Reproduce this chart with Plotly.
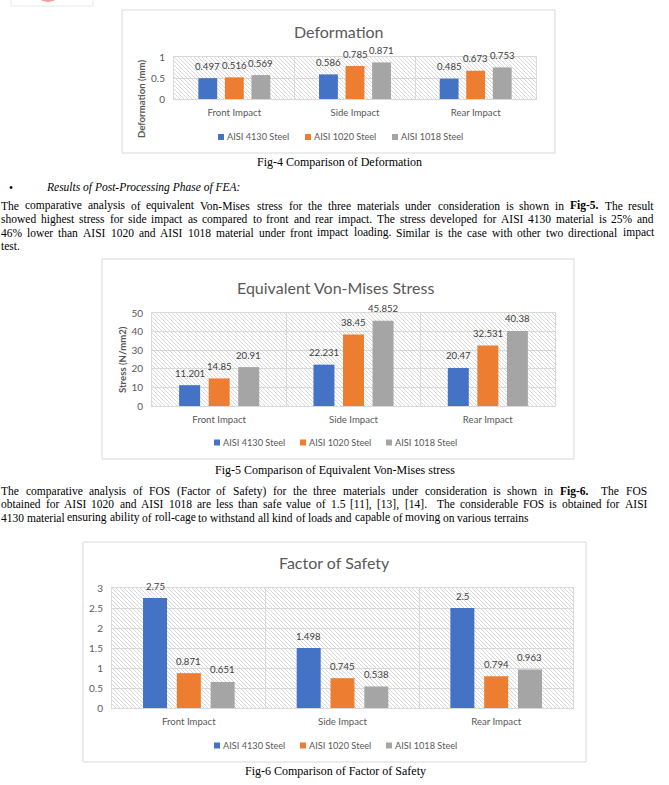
import re
import base64
import plotly.graph_objects as go

W, H = 669, 785

# ---------------- data ----------------
categories = ["Front Impact", "Side Impact", "Rear Impact"]
series_names = ["AISI 4130 Steel", "AISI 1020 Steel", "AISI 1018 Steel"]

deformation_4130 = [0.497, 0.586, 0.485]
deformation_1020 = [0.516, 0.785, 0.673]
deformation_1018 = [0.569, 0.871, 0.753]

stress_4130 = [11.201, 22.231, 20.47]
stress_1020 = [14.85, 38.45, 32.531]
stress_1018 = [20.91, 45.852, 40.38]

fos_4130 = [2.75, 1.498, 2.5]
fos_1020 = [0.871, 0.745, 0.794]
fos_1018 = [0.651, 0.538, 0.963]

chart_titles = ["Deformation", "Equivalent Von-Mises Stress", "Factor of Safety"]
y_titles = ["Deformation (mm)", "Stress (N/mm2)", None]
captions = ["Fig-4 Comparison of Deformation",
            "Fig-5 Comparison of Equivalent Von-Mises stress",
            "Fig-6 Comparison of Factor of Safety"]
y_ranges = [(0, 1), (0, 50), (0, 3)]
y_dticks = [0.5, 10, 0.5]

bullet_text = "Results of Post-Processing Phase of FEA:"
para1 = [
    "The comparative analysis of equivalent Von-Mises stress for the three materials under consideration is shown in **Fig-5.** The result",
    "showed highest stress for side impact as compared to front and rear impact. The stress developed for AISI 4130 material is 25% and",
    "46% lower than AISI 1020 and AISI 1018 material under front impact loading. Similar is the case with other two directional impact",
    "test.",
]
para2 = [
    "The comparative analysis of FOS (Factor of Safety) for the three materials under consideration is shown in **Fig-6.**  The FOS",
    "obtained for AISI 1020 and AISI 1018 are less than safe value of 1.5 [11], [13], [14].  The considerable FOS is obtained for AISI",
    "4130 material ensuring ability of roll-cage to withstand all kind of loads and capable of moving on various terrains",
]

# ---------------- styles / layout ----------------
colors = ["#4472C4", "#ED7D31", "#A5A5A5"]
SANS = "Lato"
SERIF = "Liberation Serif"
GRAY = "#595959"
GRID = "#d9d9d9"
BARGAP = 0.34
BARGROUPGAP = 0.29

# pixel geometry of each chart
charts = [
    dict(frame=(122, 10, 555, 153), plot=(174, 57, 536, 99), title=(339, 32),
         ytitle=(142, 99), legend_x=(227, 314, 401), legend_y=137, caption=(339, 162)),
    dict(frame=(102, 259, 574, 459), plot=(152, 313, 555, 406), title=(335, 288),
         ytitle=(122, 360), legend_x=(223, 309, 395), legend_y=442.5, caption=(335, 470)),
    dict(frame=(83, 542, 586, 762), plot=(112, 588, 573, 708), title=(334, 562),
         ytitle=None, legend_x=(223, 309, 395), legend_y=745.5, caption=(335, 771)),
]

series_data = [
    [deformation_4130, deformation_1020, deformation_1018],
    [stress_4130, stress_1020, stress_1018],
    [fos_4130, fos_1020, fos_1018],
]


def px(x):
    return x / W


def py(y):
    return 1 - y / H


def hatch_uri(w, h):
    svg = (f"<svg xmlns='http://www.w3.org/2000/svg' width='{w}' height='{h}' viewBox='0 0 {w} {h}'>"
           "<defs><pattern id='p' width='4' height='4' patternUnits='userSpaceOnUse'>"
           "<path d='M-1,-1 L5,5 M3,-1 L5,1 M-1,3 L1,5' stroke='#d4d4d4' stroke-width='0.9'/>"
           "</pattern></defs><rect width='100%' height='100%' fill='white'/>"
           "<rect width='100%' height='100%' fill='url(#p)'/></svg>")
    return "data:image/svg+xml;base64," + base64.b64encode(svg.encode()).decode()


fig = go.Figure()
annotations = []
shapes = []
images = []
layout_axes = {}

for ci, ch in enumerate(charts):
    sfx = "" if ci == 0 else str(ci + 1)
    xref = "x" + sfx
    yref = "y" + sfx
    x0, y0, x1, y1 = ch["plot"]
    slot_px = (x1 - x0) / len(categories) * (1 - BARGAP) / 3  # width of one bar slot in a group
    for si in range(3):
        vals = series_data[ci][si]
        fig.add_trace(go.Bar(
            x=categories, y=vals, name=series_names[si],
            marker=dict(color=colors[si], line=dict(width=0)),
            xaxis=xref, yaxis=yref, showlegend=False, hoverinfo="skip",
        ))
        # data labels, anchored on each bar's value through the axes
        for cat, v in zip(categories, vals):
            annotations.append(dict(
                text=str(v), xref=xref, yref=yref, x=cat, y=v,
                xshift=(si - 1) * slot_px, yshift=12, xanchor="center", yanchor="middle",
                showarrow=False, borderpad=0, borderwidth=0,
                font=dict(family=SANS, size=9.6, color="#404040")))
        # legend entry (swatch + label) beneath the chart
        lx = ch["legend_x"][si]
        ly = ch["legend_y"]
        shapes.append(dict(type="rect", xref="paper", yref="paper",
                           x0=px(lx - 9), x1=px(lx - 3), y0=py(ly + 3), y1=py(ly - 3),
                           line=dict(width=0), fillcolor=colors[si]))
        annotations.append(dict(
            text=series_names[si], xref="paper", yref="paper", x=px(lx), y=py(ly),
            xanchor="left", yanchor="middle", showarrow=False, borderpad=0, borderwidth=0,
            font=dict(family=SANS, size=9.2, color=GRAY)))
    layout_axes["xaxis" + sfx] = dict(
        domain=[px(x0), px(x1)], anchor=yref, type="category",
        tickson="boundaries", showgrid=True, gridcolor=GRID, gridwidth=1,
        showline=True, mirror=True, linecolor=GRID, linewidth=1,
        ticks="", ticklen=0, ticklabelstandoff=4,
        tickfont=dict(family=SANS, size=9.6, color=GRAY), fixedrange=True,
    )
    layout_axes["yaxis" + sfx] = dict(
        domain=[py(y1), py(y0)], anchor=xref, range=list(y_ranges[ci]),
        dtick=y_dticks[ci], showgrid=True, gridcolor=GRID, gridwidth=1,
        showline=True, mirror=True, linecolor=GRID, linewidth=1, zeroline=False,
        ticks="", ticklabelstandoff=6,
        tickfont=dict(family=SANS, size=10, color=GRAY), fixedrange=True,
    )
    images.append(dict(
        source=hatch_uri(x1 - x0, y1 - y0), xref=xref + " domain", yref=yref + " domain",
        x=0, y=1, sizex=1, sizey=1, xanchor="left", yanchor="top",
        sizing="stretch", layer="below",
    ))
    fx0, fy0, fx1, fy1 = ch["frame"]
    shapes.append(dict(type="rect", xref="paper", yref="paper",
                       x0=px(fx0), x1=px(fx1), y0=py(fy1), y1=py(fy0),
                       line=dict(color=GRID, width=1), fillcolor="rgba(0,0,0,0)", layer="below"))
    annotations.append(dict(
        text=chart_titles[ci], xref="paper", yref="paper",
        x=px(ch["title"][0]), y=py(ch["title"][1]), xanchor="center", yanchor="middle",
        showarrow=False, font=dict(family=SANS, size=16, color=GRAY)))
    if y_titles[ci]:
        annotations.append(dict(
            text="<b>" + y_titles[ci] + "</b>", xref="paper", yref="paper",
            x=px(ch["ytitle"][0]), y=py(ch["ytitle"][1]), xanchor="center", yanchor="middle",
            textangle=-90, showarrow=False, font=dict(family=SANS, size=9.6, color=GRAY)))
    annotations.append(dict(
        text=captions[ci], xref="paper", yref="paper",
        x=px(ch["caption"][0]), y=py(ch["caption"][1]), xanchor="center", yanchor="middle",
        showarrow=False, font=dict(family=SERIF, size=12, color="black")))

# ---------------- justified body text ----------------
TIMES = {' ': 250, '!': 333, '%': 833, '(': 333, ')': 333, ',': 250, '-': 333, '.': 250,
         ':': 278, ';': 278, '[': 333, ']': 333, '/': 278,
         'A': 722, 'B': 667, 'C': 667, 'D': 722, 'E': 611, 'F': 556, 'G': 722, 'H': 722,
         'I': 333, 'J': 389, 'K': 722, 'L': 611, 'M': 889, 'N': 722, 'O': 722, 'P': 556,
         'Q': 722, 'R': 667, 'S': 556, 'T': 611, 'U': 722, 'V': 722, 'W': 944, 'X': 722,
         'Y': 722, 'Z': 611,
         'a': 444, 'b': 500, 'c': 444, 'd': 500, 'e': 444, 'f': 333, 'g': 500, 'h': 500,
         'i': 278, 'j': 278, 'k': 500, 'l': 278, 'm': 778, 'n': 500, 'o': 500, 'p': 500,
         'q': 500, 'r': 333, 's': 389, 't': 278, 'u': 500, 'v': 500, 'w': 722, 'x': 500,
         'y': 500, 'z': 444}
TIMES_B = {'F': 611, 'i': 278, 'g': 500, '-': 333, '.': 250}
BODY = 11.5


def text_w(s, bold=False):
    tot = 0
    for c in s:
        if bold and c in TIMES_B:
            tot += TIMES_B[c]
        else:
            tot += TIMES.get(c, 500)
    return tot / 1000 * BODY


def add_line(line, ycen, xl, xr, justify):
    parts = re.split(r'( +)', line)
    words, gaps = [], []
    for p in parts:
        if not p:
            continue
        if p.strip() == '':
            gaps.append(len(p))
        else:
            words.append(p)
    items = []
    for w in words:
        bold = w.startswith("**") and w.endswith("**")
        t = w.strip("*")
        items.append((t, bold, text_w(t, bold)))
    natural = sum(i[2] for i in items) + sum(gaps) * text_w(" ")
    nsp = sum(gaps)
    extra = (xr - xl - natural) / nsp if (justify and nsp) else 0
    x = xl
    for k, (t, bold, wdt) in enumerate(items):
        annotations.append(dict(
            text=("<b>" + t + "</b>") if bold else t, xref="paper", yref="paper",
            x=px(x), y=py(ycen), xanchor="left", yanchor="middle", showarrow=False,
            borderpad=0, borderwidth=0, font=dict(family=SERIF, size=BODY, color="black")))
        x += wdt
        if k < len(gaps):
            x += gaps[k] * (text_w(" ") + extra)


annotations.append(dict(text="•", xref="paper", yref="paper", x=px(9), y=py(188),
                        xanchor="left", yanchor="middle", showarrow=False, borderwidth=0,
                        borderpad=0, font=dict(family=SERIF, size=BODY, color="black")))
annotations.append(dict(text="<i>" + bullet_text + "</i>", xref="paper", yref="paper",
                        x=px(46), y=py(188), xanchor="left", yanchor="middle", showarrow=False,
                        borderwidth=0, borderpad=0,
                        font=dict(family=SERIF, size=BODY, color="black")))

p1_y = [206, 219.3, 232.6, 246]
for i, line in enumerate(para1):
    add_line(line, p1_y[i], 1, 654, justify=(i < len(para1) - 1))
p2_y = [491, 504.3, 517.6]
for i, line in enumerate(para2):
    add_line(line, p2_y[i], 1, 647, justify=(i < len(para2) - 1))

# small cut-off logo box at the top-left
shapes.append(dict(type="rect", xref="paper", yref="paper", x0=px(11), x1=px(93),
                   y0=py(6), y1=py(-3), line=dict(color="#e8e8e8", width=1)))
shapes.append(dict(type="circle", xref="paper", yref="paper", x0=px(39), x1=px(57),
                   y0=py(2), y1=py(-8), line=dict(width=0), fillcolor="#f2a0a0"))

fig.update_layout(
    autosize=True, margin=dict(l=0, r=0, t=0, b=0, autoexpand=False),
    paper_bgcolor="white", plot_bgcolor="rgba(0,0,0,0)",
    barmode="group", bargap=BARGAP, bargroupgap=BARGROUPGAP,
    annotations=annotations, shapes=shapes, images=images,
    showlegend=False, **layout_axes,
)

fig.write_html(
    "out.html",
    config={"displayModeBar": False, "responsive": False},
    default_width=f"{W}px",
    default_height=f"{H}px;position:absolute;left:0;top:0",
    post_script="document.body.style.margin='0';document.body.style.overflow='hidden';",
)
